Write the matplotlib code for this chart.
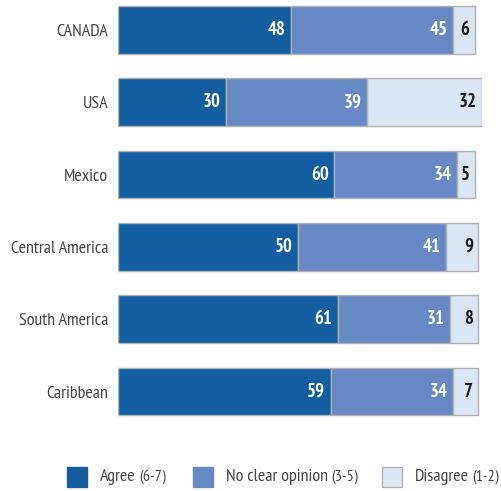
import numpy as np
import matplotlib
matplotlib.use("Agg")
import matplotlib.pyplot as plt
from matplotlib.patches import Rectangle

plt.rcParams["font.family"] = ["PT Sans Narrow", "DejaVu Sans"]

regions = ["CANADA", "USA", "Mexico", "Central America", "South America", "Caribbean"]
agree = [48, 30, 60, 50, 61, 59]
no_opinion = [45, 39, 34, 41, 31, 34]
disagree = [6, 32, 5, 9, 8, 7]

series_names = ["Agree", "No clear opinion", "Disagree"]
series_ranges = ["(6-7)", "(3-5)", "(1-2)"]
colors = ["#135ea0", "#6688c4", "#d9e6f3"]
label_colors = ["white", "white", "#1a1a1a"]
edge = "#b0b0b0"
text_col = "#444444"

fig = plt.figure(figsize=(5.02, 4.91), dpi=100)
ax = fig.add_axes([118 / 502, 1 - 420 / 491, 364 / 502, 420 / 491])

y = np.arange(len(regions))
left = np.zeros(len(regions))
for vals, col, tcol in zip([agree, no_opinion, disagree], colors, label_colors):
    vals = np.array(vals, dtype=float)
    ax.barh(y, vals, left=left, height=0.66, color=col, edgecolor=edge, linewidth=1)
    for yi, l, v in zip(y, left, vals):
        ax.annotate(f"{int(v)}", xy=(l + v, yi), xytext=(-3.8, 0),
                    textcoords="offset points", ha="right", va="center",
                    fontsize=13.5, fontweight="bold", color=tcol)
    left += vals

ax.set_xlim(0, 101)
ax.set_ylim(5 + (420 - 391.5) / 72.3, -30 / 72.3)
ax.set_yticks(y)
ax.set_yticklabels(regions, fontsize=13, color=text_col)
ax.tick_params(axis="y", length=0, pad=7)
ax.set_xticks([])
for s in ax.spines.values():
    s.set_visible(False)

# legend row along the bottom
sq_x = [67, 193, 382]
ly = 1 - 477 / 491
for x0, name, rng, col in zip(sq_x, series_names, series_ranges, colors):
    ec = edge if col == colors[2] else col
    fig.patches.append(Rectangle((x0 / 502, ly - 10 / 491), 20 / 502, 20 / 491,
                                 transform=fig.transFigure, facecolor=col,
                                 edgecolor=ec, linewidth=1))
    t = fig.text((x0 + 33) / 502, ly, name, fontsize=13, color=text_col,
                 va="center", ha="left")
    ax.annotate(rng, xy=(1, 0.5), xycoords=t, xytext=(2.5, 0),
                textcoords="offset points", va="center", ha="left",
                fontsize=11.5, color=text_col, annotation_clip=False)

fig.savefig("out.png", dpi=100)
